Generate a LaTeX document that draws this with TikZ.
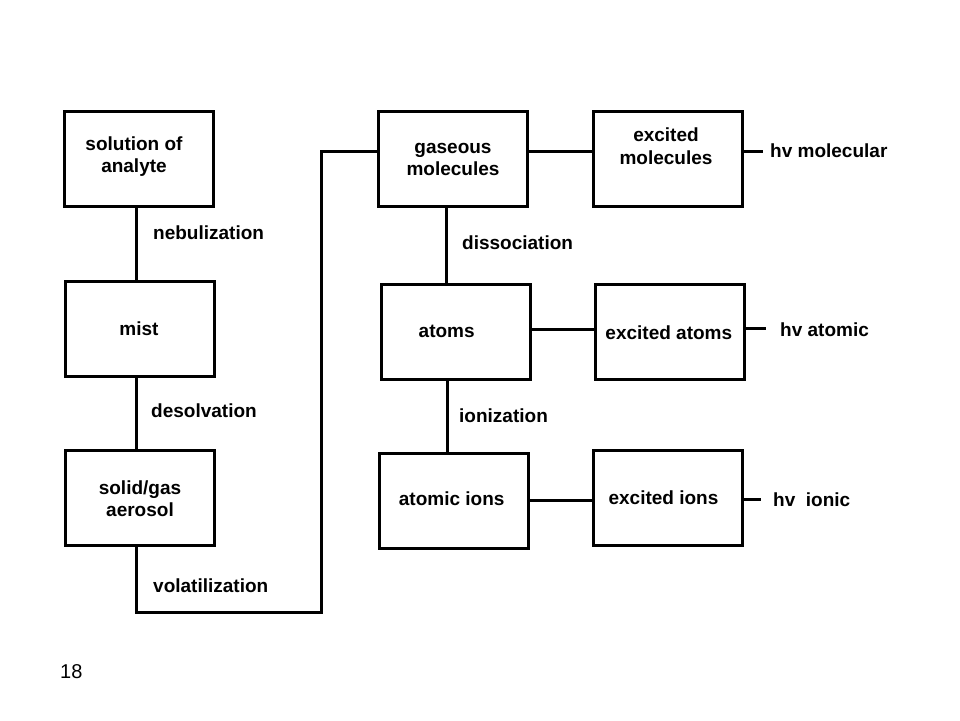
\documentclass[tikz,border=0pt]{standalone}
\usepackage{fontspec}
\setmainfont{Liberation Sans}
\begin{document}
\begin{tikzpicture}[x=1pt,y=-1pt,
  box/.style={draw, line width=3pt, minimum width=149pt, minimum height=95pt, inner sep=0pt},
  lbl/.style={font=\fontsize{19}{22.5}\selectfont\bfseries, inner sep=0pt, anchor=base},
  proc/.style={lbl, anchor=base west},
  conn/.style={line width=3pt}]
\useasboundingbox (0,0) rectangle (960,720);
% boxes
\node[box] (sol)  at (138.5,158.5) {};
\node[box] (mist) at (140,329) {};
\node[box] (aer)  at (139.5,497.5) {};
\node[box] (gm)   at (452.5,158.5) {};
\node[box] (em)   at (667.5,158.5) {};
\node[box] (at)   at (455.5,331.5) {};
\node[box] (ea)   at (669.5,332) {};
\node[box] (ai)   at (453.5,500.5) {};
\node[box] (ei)   at (667.5,497.5) {};
% box texts
\node[lbl] (solt)  at (134,150)   {\begin{tabular}[t]{@{}c@{}}solution of\\analyte\end{tabular}};
\node[lbl] (mistt) at (139,335)   {mist};
\node[lbl] (aert)  at (140,494)   {\begin{tabular}[t]{@{}c@{}}solid/gas\\aerosol\end{tabular}};
\node[lbl] (gmt)   at (453,153.3) {\begin{tabular}[t]{@{}c@{}}gaseous\\molecules\end{tabular}};
\node[lbl] (emt)   at (666,141.7) {\begin{tabular}[t]{@{}c@{}}excited\\molecules\end{tabular}};
\node[lbl] (att)   at (446.7,337) {atoms};
\node[lbl] (eat)   at (668.8,339) {excited atoms};
\node[lbl] (ait)   at (451.7,505.3) {atomic ions};
\node[lbl] (eit)   at (663.5,504) {excited ions};
% connectors
\coordinate (vb) at (321,612);
\draw[conn] ([xshift=-2.5pt]sol.south) -- ([xshift=-2.5pt]sol.south |- mist.north);
\draw[conn] ([xshift=-3.5pt]mist.south) -- ([xshift=-3.5pt]mist.south |- aer.north);
\draw[conn] ([xshift=-3.5pt]aer.south) |- (vb) |- ([yshift=7.5pt]gm.west);
\draw[conn] ([xshift=-6.5pt]gm.south) -- ([xshift=-6.5pt]gm.south |- at.north);
\draw[conn] ([xshift=-8.5pt]at.south) -- ([xshift=-8.5pt]at.south |- ai.north);
\draw[conn] ([yshift=7.5pt]gm.east) -- ([yshift=7.5pt]gm.east -| em.west);
\draw[conn] ([yshift=2.5pt]at.east) -- ([yshift=2.5pt]at.east -| ea.west);
\draw[conn] (ai.east) -- (ai.east -| ei.west);
% emission lines
\coordinate (hm) at (763,151);
\coordinate (ha) at (766,328);
\coordinate (hi) at (761,499);
\draw[conn] (hm -| em.east) -- (hm);
\draw[conn] (ha -| ea.east) -- (ha);
\draw[conn] (hi -| ei.east) -- (hi);
\node[proc] (hmt) at (770,157)   {hv molecular};
\node[proc] (hat) at (780,336)   {hv atomic};
\node[proc] (hit) at (773,506.7) {hv\ \ ionic};
% process labels
\node[proc] (neb) at (153,239)   {nebulization};
\node[proc] (des) at (151,417.7) {desolvation};
\node[proc] (vol) at (153,592)   {volatilization};
\node[proc] (dis) at (462,249)   {dissociation};
\node[proc] (ion) at (459,422.7) {ionization};
% page number
\node[font=\fontsize{20}{24}\selectfont, inner sep=0pt, anchor=base west] (pg) at (60,678) {18};
\end{tikzpicture}
\end{document}
